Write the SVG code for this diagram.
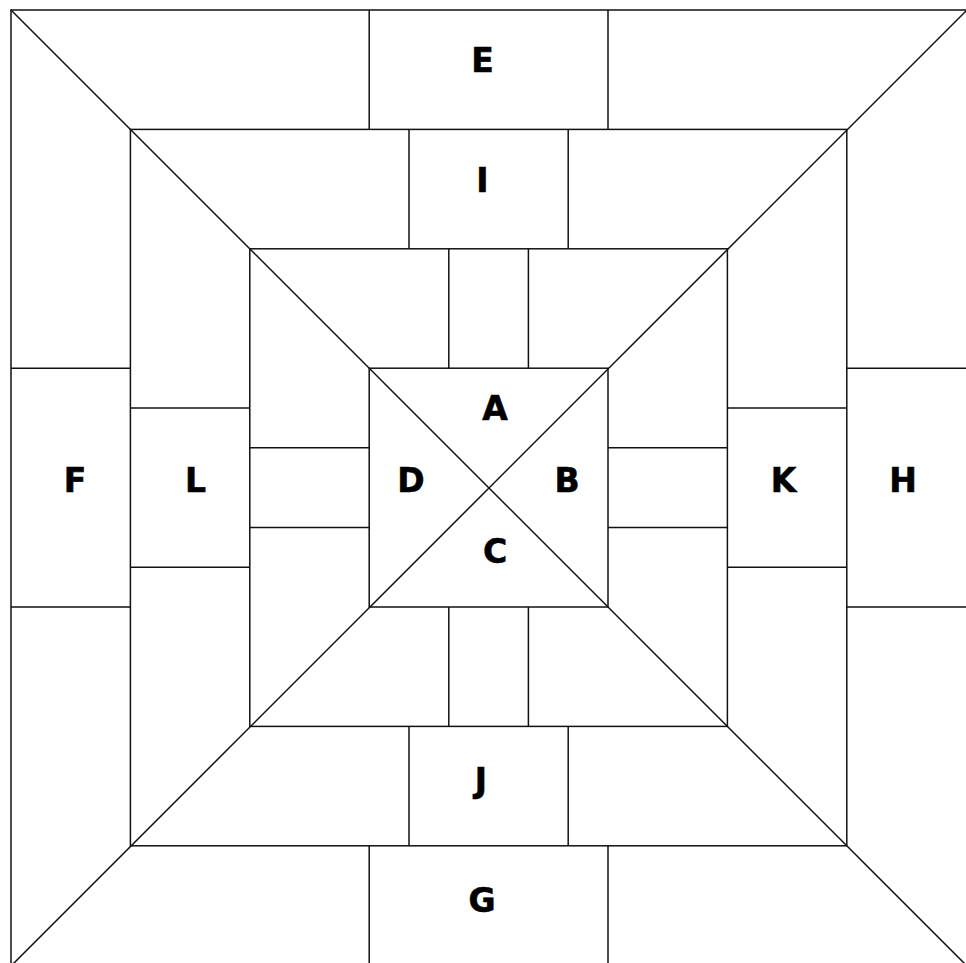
<svg xmlns="http://www.w3.org/2000/svg" width="966" height="963" viewBox="0 0 966 963">
<style>
.ln{stroke:#111;stroke-width:1.5;fill:none}
.lb{font-family:"DejaVu Sans",Verdana,sans-serif;font-weight:bold;font-size:33px;fill:#000;stroke:#000;stroke-width:0.6;text-anchor:middle}
</style>
<rect width="966" height="963" fill="#fff"/>
<g id="connectors" class="ln">
<rect x="11" y="10" width="956" height="956"/>
<rect x="130.4" y="129.4" width="716.4" height="716.4"/>
<rect x="249.8" y="248.8" width="477.6" height="477.6"/>
<rect x="369.2" y="368.2" width="238.8" height="238.8"/>
<line x1="11" y1="10" x2="967" y2="966"/>
<line x1="967" y1="10" x2="11" y2="966"/>
<line x1="369.2" y1="10" x2="369.2" y2="129.4"/>
<line x1="608" y1="10" x2="608" y2="129.4"/>
<line x1="369.2" y1="845.8" x2="369.2" y2="966"/>
<line x1="608" y1="845.8" x2="608" y2="966"/>
<line x1="11" y1="368.2" x2="130.4" y2="368.2"/>
<line x1="11" y1="607" x2="130.4" y2="607"/>
<line x1="846.8" y1="368.2" x2="967" y2="368.2"/>
<line x1="846.8" y1="607" x2="967" y2="607"/>
<line x1="409" y1="129.4" x2="409" y2="248.8"/>
<line x1="568.2" y1="129.4" x2="568.2" y2="248.8"/>
<line x1="409" y1="726.4" x2="409" y2="845.8"/>
<line x1="568.2" y1="726.4" x2="568.2" y2="845.8"/>
<line x1="130.4" y1="408" x2="249.8" y2="408"/>
<line x1="130.4" y1="567.2" x2="249.8" y2="567.2"/>
<line x1="727.4" y1="408" x2="846.8" y2="408"/>
<line x1="727.4" y1="567.2" x2="846.8" y2="567.2"/>
<line x1="448.8" y1="248.8" x2="448.8" y2="368.2"/>
<line x1="528.4" y1="248.8" x2="528.4" y2="368.2"/>
<line x1="448.8" y1="607" x2="448.8" y2="726.4"/>
<line x1="528.4" y1="607" x2="528.4" y2="726.4"/>
<line x1="249.8" y1="447.8" x2="369.2" y2="447.8"/>
<line x1="249.8" y1="527.4" x2="369.2" y2="527.4"/>
<line x1="608" y1="447.8" x2="727.4" y2="447.8"/>
<line x1="608" y1="527.4" x2="727.4" y2="527.4"/>
</g>
<g id="node-A"><text class="lb" x="495" y="420">A</text></g>
<g id="node-B"><text class="lb" x="567" y="492">B</text></g>
<g id="node-C"><text class="lb" x="495" y="563">C</text></g>
<g id="node-D"><text class="lb" x="411" y="492">D</text></g>
<g id="node-E"><text class="lb" x="482.5" y="72">E</text></g>
<g id="node-F"><text class="lb" x="75" y="492">F</text></g>
<g id="node-G"><text class="lb" x="482" y="912">G</text></g>
<g id="node-H"><text class="lb" x="903" y="492">H</text></g>
<g id="node-I"><text class="lb" x="482.5" y="192">I</text></g>
<g id="node-J"><text class="lb" x="481" y="792">J</text></g>
<g id="node-K"><text class="lb" x="783.5" y="492">K</text></g>
<g id="node-L"><text class="lb" x="195.5" y="492">L</text></g>
</svg>
